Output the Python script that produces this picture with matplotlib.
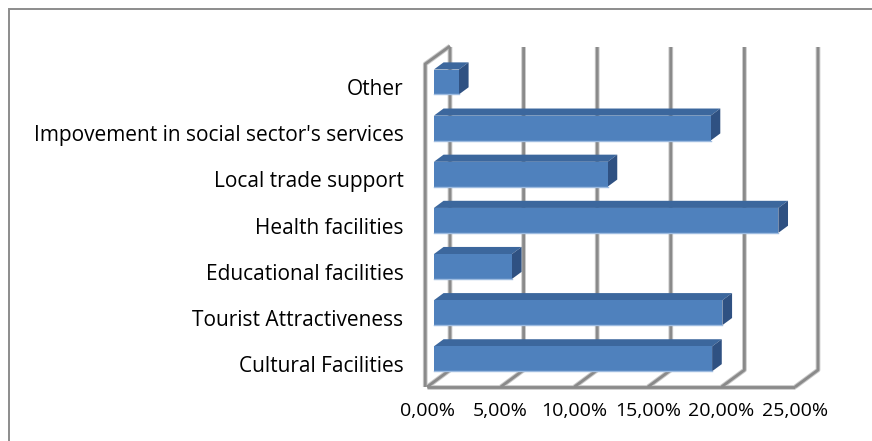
import matplotlib
matplotlib.use("Agg")
import matplotlib.pyplot as plt
from matplotlib.patches import Polygon, Rectangle

# data (percent)
categories = ["Cultural Facilities", "Tourist Attractiveness", "Educational facilities",
              "Health facilities", "Local trade support",
              "Impovement in social sector's services", "Other"]
values = [18.9, 19.6, 5.3, 23.4, 11.8, 18.8, 1.7]
x_ticks = [0, 5, 10, 15, 20, 25]
x_tick_labels = ["0,00%", "5,00%", "10,00%", "15,00%", "20,00%", "25,00%"]

plt.rcParams['font.family'] = ['Open Sans', 'DejaVu Sans']

W, H = 872, 441
fig = plt.figure(figsize=(W / 100, H / 100), dpi=100)
# axes = front plane of the 3d box (depth t=0)
ax = fig.add_axes([427 / W, 1 - 387 / H, (795 - 427) / W, (387 - 64) / H])
ax.set_xlim(0, 25)
ax.set_ylim(-0.5, 6.5)

# oblique depth vector (front -> back wall) in data units
DX = 23 / 14.72
DY = 17 / 46.14
T_FRONT, T_BACK = 0.30, 0.72
HALF = 0.27


def p(x, y, t):
    return (x + t * DX, y + t * DY)


grid_dark = "#8a8a8a"
grid_light = "#c9c9c9"


def gline(pts, z=1):
    xs, ys = zip(*pts)
    ax.plot(xs, ys, color=grid_light, lw=3.4, solid_capstyle="butt", zorder=z, clip_on=False)
    ax.plot(xs, ys, color=grid_dark, lw=2.0, solid_capstyle="butt", zorder=z + 0.1, clip_on=False)


y0, y1 = -0.5, 6.5
# back wall gridlines and floor diagonals
for xt in x_ticks:
    gline([p(xt, y1, 1), p(xt, y0, 1), p(xt, y0, 0)])
# floor front edge
gline([p(0, y0, 0), p(25, y0, 0)])
# left wall front edge and top
gline([p(-0.12, y0, 0), p(-0.12, y1, 0), p(0, y1 + 0.02, 1)])

# bars
front_c = "#4f81bd"
top_c = "#3c679d"
side_c = "#2f5182"
for i, v in enumerate(values):
    lo, hi = i - HALF, i + HALF
    front = [p(0, lo, T_FRONT), p(v, lo, T_FRONT), p(v, hi, T_FRONT), p(0, hi, T_FRONT)]
    top = [p(0, hi, T_FRONT), p(v, hi, T_FRONT), p(v, hi, T_BACK), p(0, hi, T_BACK)]
    side = [p(v, lo, T_FRONT), p(v, lo, T_BACK), p(v, hi, T_BACK), p(v, hi, T_FRONT)]
    ax.add_patch(Polygon(top, closed=True, fc=top_c, ec="none", zorder=3, clip_on=False))
    ax.add_patch(Polygon(side, closed=True, fc=side_c, ec="none", zorder=3, clip_on=False))
    ax.add_patch(Polygon(front, closed=True, fc=front_c, ec="none", zorder=4, clip_on=False))
    ax.plot([p(0, lo, T_FRONT)[0], p(v, lo, T_FRONT)[0]],
            [p(0, lo, T_FRONT)[1], p(v, lo, T_FRONT)[1]],
            color="#9dbbe0", lw=1.0, zorder=5, clip_on=False)

ax.set_xticks(x_ticks, x_tick_labels)
ax.set_yticks(range(len(categories)), categories)
ax.tick_params(axis="both", length=0, colors="black")
ax.tick_params(axis="y", pad=17, labelsize=15)
ax.tick_params(axis="x", pad=10.5, labelsize=14)
for s in ax.spines.values():
    s.set_visible(False)
ax.patch.set_visible(False)

# outer chart frame (right and bottom edges fall outside the image)
fig.patches.append(Rectangle((9 / W, -0.1), 1.2, 1.1 - 9 / H, transform=fig.transFigure,
                             fill=False, ec="#8c8c8c", lw=1.4))

fig.savefig("out.png", dpi=100)
